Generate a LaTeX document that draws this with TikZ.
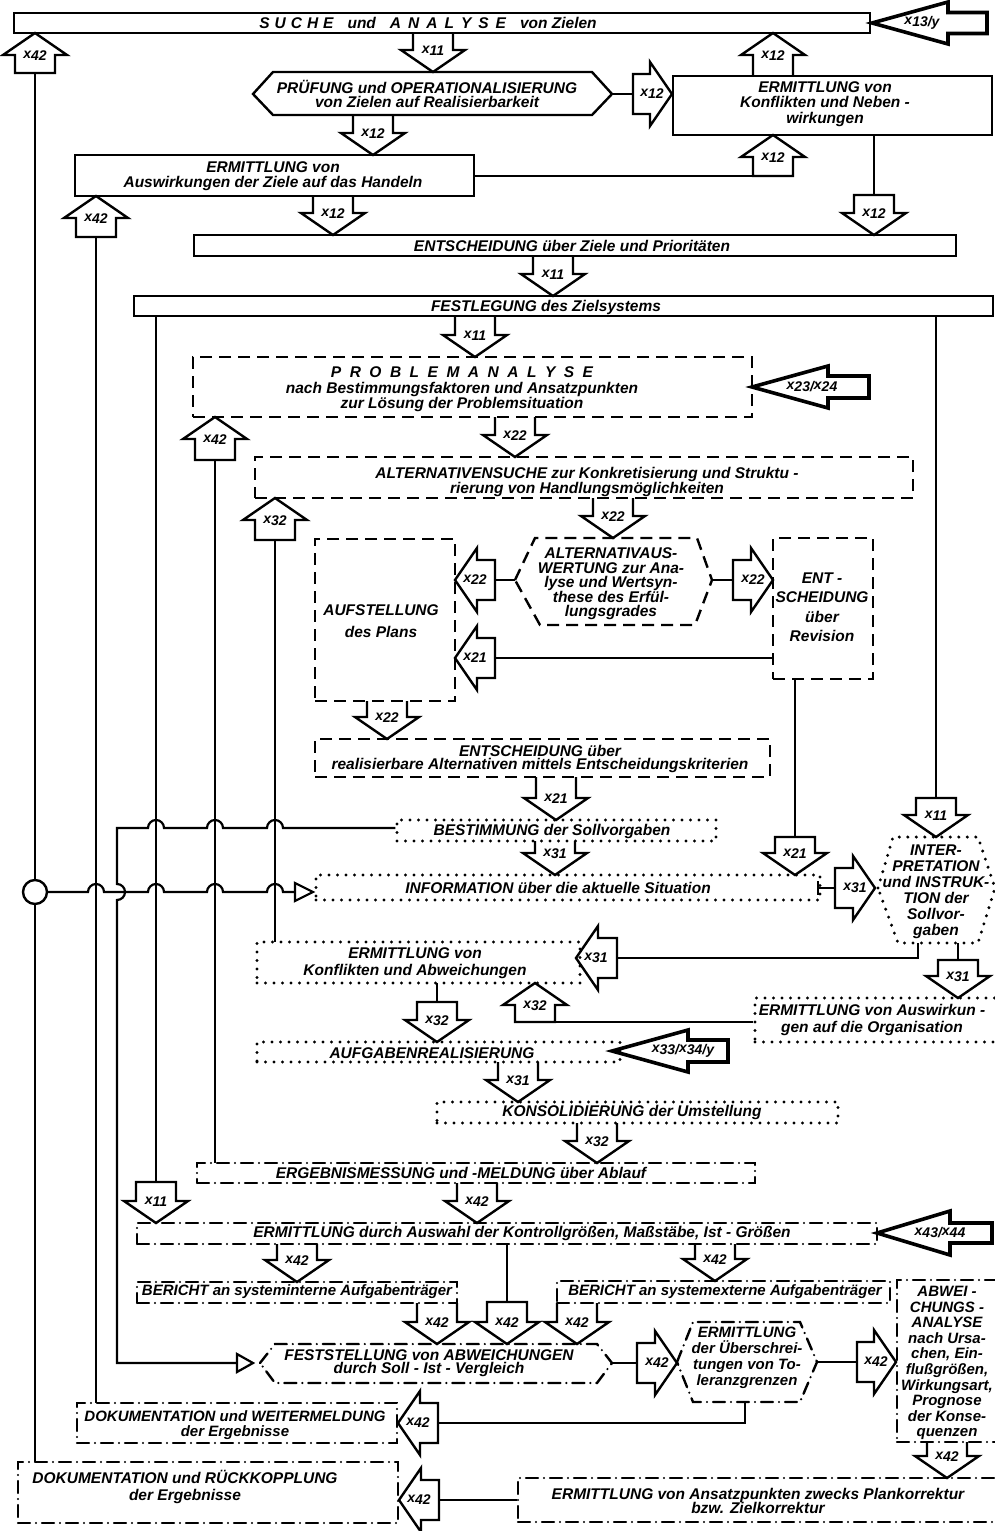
\documentclass[tikz,border=0pt]{standalone}
\usepackage{fontspec}
\setmainfont{Liberation Sans}
\usetikzlibrary{fit}
\newcounter{ac}
\newcommand\xs[1]{\raisebox{0.3ex}{x}#1}
\newcommand\la{\hspace{5pt}}
\newcommand\lb{\hspace{7pt}}
\newcommand\lc{\hspace{8.5pt}}
\tikzset{
  ln/.style={draw, line width=2.2pt},
  sbox/.style={draw, line width=2.4pt, inner sep=0pt},
  dbox/.style={draw, line width=2.4pt, dash pattern=on 12pt off 7pt, inner sep=0pt},
  obox/.style={draw, line width=3.3pt, line cap=round, dash pattern=on 0pt off 8.5pt, inner sep=0pt},
  ddbox/.style={draw, line width=2.4pt, line cap=round, dash pattern=on 12pt off 6pt on 0pt off 6pt, inner sep=0pt},
  arr/.style={draw, line width=2.4pt, line join=miter},
  thk/.style={draw, line width=3.6pt, line join=miter},
  txt/.style={font=\fontsize{15.5}{14.5}\selectfont\bfseries\itshape, align=center, inner sep=0pt},
  alab/.style={font=\fontsize{14}{14}\selectfont\bfseries\itshape, inner sep=0pt},
}
% down arrow: x, tip y, tail y, label, closing
\newcommand\darr[5]{\stepcounter{ac}%
  \draw[arr] (#1-20,#3) -- (#1-20,#2-22) -- (#1-32,#2-22) -- (#1,#2) -- (#1+32,#2-22) -- (#1+20,#2-22) -- (#1+20,#3) #5;
  \node[alab] (a\arabic{ac}) at (#1,#2-21) {\xs{#4}};}
\newcommand\uarr[5]{\stepcounter{ac}%
  \draw[arr] (#1-20,#3) -- (#1-20,#2+22) -- (#1-32,#2+22) -- (#1,#2) -- (#1+32,#2+22) -- (#1+20,#2+22) -- (#1+20,#3) #5;
  \node[alab] (a\arabic{ac}) at (#1,#2+23) {\xs{#4}};}
% left arrow: tip x, y, tail x, label, closing
\newcommand\larr[5]{\stepcounter{ac}%
  \draw[arr] (#3,#2-20) -- (#1+22,#2-20) -- (#1+22,#2-32) -- (#1,#2) -- (#1+22,#2+32) -- (#1+22,#2+20) -- (#3,#2+20) #5;
  \node[alab] (a\arabic{ac}) at (#1+20,#2) {\xs{#4}};}
\newcommand\rarr[5]{\stepcounter{ac}%
  \draw[arr] (#3,#2-20) -- (#1-22,#2-20) -- (#1-22,#2-32) -- (#1,#2) -- (#1-22,#2+32) -- (#1-22,#2+20) -- (#3,#2+20) #5;
  \node[alab] (a\arabic{ac}) at (#1-20,#2) {\xs{#4}};}
% thick input arrow: tip x, y, head back x, head half, tail x, shaft half, label, label x
\newcommand\inarr[8]{\stepcounter{ac}%
  \draw[thk] (#1,#2) -- (#3,#2-#4) -- (#3,#2-#6) -- (#5,#2-#6) -- (#5,#2+#6) -- (#3,#2+#6) -- (#3,#2+#4) -- cycle;
  \node[alab] (a\arabic{ac}) at (#8,#2) {#7};}
\begin{document}
\begin{tikzpicture}[x=1pt,y=-1pt]
\useasboundingbox (0,0) rectangle (995,1531);
% ---------- boxes ----------
\node[sbox, fit={(14,13) (870,33)}] (suche) {};
\draw[sbox] (253,94) -- (273,72) -- (592,72) -- (612,94) -- (592,115) -- (273,115) -- cycle;
\node[sbox, fit={(673,76) (992,135)}] (konfl) {};
\node[sbox, fit={(75,155) (474,196)}] (auswirk) {};
\node[sbox, fit={(194,235) (956,256)}] (entsch) {};
\node[sbox, fit={(134,296) (993,316)}] (festl) {};
\node[dbox, fit={(193,357) (752,417)}] (prob) {};
\node[dbox, fit={(255,457) (913,498)}] (alts) {};
\draw[dbox] (515,580) -- (535,538) -- (697,538) -- (712,580) -- (695,625) -- (540,625) -- cycle;
\node[dbox, fit={(315,539) (455,701)}] (aufst) {};
\node[dbox, fit={(773,538) (873,679)}] (entrev) {};
\node[dbox, fit={(315,739) (770,777)}] (entreal) {};
\node[obox, fit={(397,820) (716,841)}] (bestimm) {};
\node[obox, fit={(316,875) (820,900)}] (info) {};
\draw[obox] (878,888) -- (893,837) -- (978,837) -- (995,888) -- (978,943) -- (898,943) -- cycle;
\node[obox, fit={(257,942) (580,983)}] (konfabw) {};
\node[obox, fit={(755,998) (1010,1042)}] (orga) {};
\node[obox, fit={(257,1042) (620,1062)}] (aufgaben) {};
\node[obox, fit={(437,1102) (838,1123)}] (konsol) {};
\node[ddbox, fit={(197,1163) (755,1183)}] (ergeb) {};
\node[ddbox, fit={(137,1223) (877,1244)}] (durch) {};
\node[ddbox, fit={(137,1282) (457,1303)}] (berint) {};
\node[ddbox, fit={(557,1281) (890,1303)}] (berext) {};
\draw[ddbox] (260,1363) -- (275,1344) -- (597,1344) -- (612,1363) -- (597,1383) -- (275,1383) -- cycle;
\draw[ddbox] (677,1362) -- (693,1322) -- (800,1322) -- (817,1362) -- (800,1402) -- (693,1402) -- cycle;
\node[ddbox, fit={(897,1280) (1010,1442)}] (abw) {};
\node[ddbox, fit={(77,1403) (397,1443)}] (dokw) {};
\node[ddbox, fit={(18,1462) (398,1523)}] (dokr) {};
\node[ddbox, fit={(518,1478) (1010,1522)}] (ansatz) {};
% ---------- texts ----------
\node[txt] (suche-t) at (428,23) {S\la U\la C\la H\la E\hspace{14pt}und\hspace{14pt}A\lb N\lb A\lb L\lb Y\lb S\lb E\hspace{14pt}von Zielen};
\node[txt] (pruef-t) at (427,94) {PRÜFUNG und OPERATIONALISIERUNG\\von Zielen auf Realisierbarkeit};
\node[txt, font=\fontsize{15.5}{15.5}\selectfont\bfseries\itshape] (konfl-t) at (825,104) {ERMITTLUNG von\\Konflikten und Neben -\\wirkungen};
\node[txt] (auswirk-t) at (273,176) {ERMITTLUNG von\\Auswirkungen der Ziele auf das Handeln};
\node[txt] (entsch-t) at (572,246) {ENTSCHEIDUNG über Ziele und Prioritäten};
\node[txt] (festl-t) at (546,307) {FESTLEGUNG des Zielsystems};
\node[txt] (prob-t) at (462,389) {P\lc R\lc O\lc B\lc L\lc E\lc M\lc A\lc N\lc A\lc L\lc Y\lc S\lc E\\[2pt]nach Bestimmungsfaktoren und Ansatzpunkten\\zur Lösung der Problemsituation};
\node[txt] (alts-t) at (587,482) {ALTERNATIVENSUCHE zur Konkretisierung und Struktu -\\rierung von Handlungsmöglichkeiten};
\node[txt] (ausw-t) at (611,584) {ALTERNATIVAUS-\\WERTUNG zur Ana-\\lyse und Wertsyn-\\these des Erfül-\\lungsgrades};
\node[txt] (aufst-t) at (381,621) {AUFSTELLUNG\\[7pt]des Plans};
\node[txt] (entrev-t) at (822,607) {ENT -\\[5pt]SCHEIDUNG\\[5pt]über\\[5pt]Revision};
\node[txt, font=\fontsize{15.5}{13}\selectfont\bfseries\itshape] (entreal-t) at (540,759) {ENTSCHEIDUNG über\\realisierbare Alternativen mittels Entscheidungskriterien};
\node[txt] (best-t) at (552,831) {BESTIMMUNG der Sollvorgaben};
\node[txt] (info-t) at (558,888) {INFORMATION über die aktuelle Situation};
\node[txt, font=\fontsize{15.5}{16}\selectfont\bfseries\itshape] (interp-t) at (936,892) {INTER-\\PRETATION\\und INSTRUK-\\TION der\\Sollvor-\\gaben};
\node[txt, font=\fontsize{15.5}{16.5}\selectfont\bfseries\itshape] (konfabw-t) at (415,963) {ERMITTLUNG von\\Konflikten und Abweichungen};
\node[txt, font=\fontsize{15.5}{17}\selectfont\bfseries\itshape] (orga-t) at (872,1020) {ERMITTLUNG von Auswirkun -\\gen auf die Organisation};
\node[txt] (aufg-t) at (432,1053) {AUFGABENREALISIERUNG};
\node[txt] (konsol-t) at (632,1112) {KONSOLIDIERUNG der Umstellung};
\node[txt] (ergeb-t) at (461,1173) {ERGEBNISMESSUNG und -MELDUNG über Ablauf};
\node[txt] (durch-t) at (522,1233) {ERMITTLUNG durch Auswahl der Kontrollgrößen, Maßstäbe, Ist - Größen};
\node[txt, font=\fontsize{15}{14.5}\selectfont\bfseries\itshape] (berint-t) at (297,1292) {BERICHT an systeminterne Aufgabenträger};
\node[txt, font=\fontsize{15}{14.5}\selectfont\bfseries\itshape] (berext-t) at (725,1292) {BERICHT an systemexterne Aufgabenträger};
\node[txt, font=\fontsize{15.5}{13}\selectfont\bfseries\itshape] (fest-t) at (429,1363) {FESTSTELLUNG von ABWEICHUNGEN\\durch Soll - Ist - Vergleich};
\node[txt, font=\fontsize{15}{16}\selectfont\bfseries\itshape] (ueber-t) at (747,1358) {ERMITTLUNG\\der Überschrei-\\tungen von To-\\leranzgrenzen};
\node[txt, font=\fontsize{15}{15.6}\selectfont\bfseries\itshape] (abw-t) at (947,1363) {ABWEI -\\CHUNGS -\\ANALYSE\\nach Ursa-\\chen, Ein-\\flußgrößen,\\Wirkungsart,\\Prognose\\der Konse-\\quenzen};
\node[txt] (ansatz-t) at (758,1501) {ERMITTLUNG von Ansatzpunkten zwecks Plankorrektur\\bzw. Zielkorrektur};
\node[txt, font=\fontsize{15}{14.5}\selectfont\bfseries\itshape] (dokw-t) at (235,1425) {DOKUMENTATION und WEITERMELDUNG\\der Ergebnisse};
\node[txt] (dokr-t) at (185,1487) {DOKUMENTATION und RÜCKKOPPLUNG\\[3pt]der Ergebnisse};
% ---------- circle and long feedback lines ----------
\node[circle, draw, line width=2.4pt, minimum size=24pt, inner sep=0pt] (circ) at (35,892) {};
\uarr{35}{33}{73}{42}{-- cycle}
\draw[ln] (35,73) -- (circ.north);
\draw[ln] (circ.south) -- (35,1462);
\uarr{96}{196}{237}{42}{-- cycle}
\draw[ln] (96,237) -- (96,1403);
\uarr{215}{417}{460}{42}{-- cycle}
\draw[ln] (215,460) -- (215,1163);
\uarr{275}{498}{540}{32}{-- cycle}
\draw[ln] (275,540) -- (275,942);
\draw[ln] (156,316) -- (156,1182);
\darr{156}{1223}{1182}{11}{-- cycle}
\draw[ln] (936,316) -- (936,798);
\darr{936}{837}{798}{11}{-- cycle}
% horizontal line from circle to INFORMATION (with hops)
\draw[ln] (circ.east) -- (88,892) arc[start angle=180,end angle=0,radius=8pt]
  -- (148,892) arc[start angle=180,end angle=0,radius=8pt]
  -- (207,892) arc[start angle=180,end angle=0,radius=8pt]
  -- (267,892) arc[start angle=180,end angle=0,radius=8pt] -- (295,892);
\draw[ln, line join=miter] (295,883) -- (313,892) -- (295,901) -- cycle;
% line from BESTIMMUNG to FESTSTELLUNG
\draw[ln] (bestimm.west |- 0,828) -- (283,828) arc[start angle=0,end angle=180,radius=8pt]
  -- (223,828) arc[start angle=0,end angle=180,radius=8pt]
  -- (164,828) arc[start angle=0,end angle=180,radius=8pt]
  -- (117,828) -- (117,884) arc[start angle=90,end angle=-90,radius=8pt]
  -- (117,1363) -- (237,1363);
\draw[ln, line join=miter] (237,1354) -- (253,1363) -- (237,1372) -- cycle;
% ---------- upper block ----------
\inarr{872}{23}{948}{21}{987}{10.5}{\xs{13}/y}{922}
\darr{433}{72}{33}{11}{}
\draw[ln] (612,94) -- (633,94);
\rarr{672}{94}{633}{12}{-- cycle}
\uarr{773}{33}{76}{12}{}
\draw[ln] (auswirk.east |- 0,176) -- (753,176);
\uarr{773}{135}{176}{12}{-- cycle}
\draw[ln] (874,135) -- (874,195);
\darr{874}{235}{195}{12}{-- cycle}
\darr{373}{155}{115}{12}{}
\darr{333}{235}{196}{12}{}
\darr{553}{296}{256}{11}{}
\darr{475}{357}{316}{11}{}
% ---------- planning block ----------
\inarr{752}{387}{828}{21}{869}{11}{\xs{23}/\xs{24}}{812}
\darr{515}{457}{417}{22}{}
\darr{613}{538}{498}{22}{}
\draw[ln] (515,580) -- (495,580);
\larr{455}{580}{495}{22}{-- cycle}
\draw[ln] (712,580) -- (733,580);
\rarr{773}{580}{733}{22}{-- cycle}
\draw[ln] (entrev.west |- 0,658) -- (495,658);
\larr{455}{658}{495}{21}{-- cycle}
\darr{387}{739}{701}{22}{}
\darr{556}{820}{777}{21}{}
\darr{555}{875}{841}{31}{}
\draw[ln] (795,679) -- (795,837);
\darr{795}{875}{837}{21}{-- cycle}
% ---------- realisation block ----------
\draw[ln] (818,881) -- (818,895);
\draw[ln] (818,888) -- (835,888);
\rarr{875}{888}{835}{31}{-- cycle}
\draw[ln] (918,943) -- (918,958) -- (617,958);
\larr{576}{958}{617}{31}{-- cycle}
\draw[ln] (958,943) -- (958,960);
\darr{958}{998}{960}{31}{-- cycle}
\draw[ln] (orga.west |- 0,1022) -- (555,1022);
\uarr{535}{983}{1022}{32}{-- cycle}
\draw[ln] (437,983) -- (437,1002);
\darr{437}{1042}{1002}{32}{-- cycle}
\inarr{612}{1051}{688}{21}{728}{11}{\xs{33}/\xs{34}/y}{683}
\darr{518}{1102}{1062}{31}{}
\darr{597}{1163}{1123}{32}{}
% ---------- control block ----------
\darr{477}{1223}{1183}{42}{}
\inarr{877}{1233}{950}{22}{992}{10}{\xs{43}/\xs{44}}{940}
\darr{297}{1282}{1244}{42}{}
\draw[ln] (507,1244) -- (507,1302);
\darr{507}{1344}{1302}{42}{-- cycle}
\darr{715}{1281}{1244}{42}{}
\darr{437}{1344}{1303}{42}{}
\darr{577}{1344}{1303}{42}{}
\draw[ln] (612,1363) -- (637,1363);
\rarr{677}{1363}{637}{42}{-- cycle}
\draw[ln] (817,1362) -- (857,1362);
\rarr{896}{1362}{857}{42}{-- cycle}
\draw[ln] (745,1402) -- (745,1423) -- (438,1423);
\larr{398}{1423}{438}{42}{-- cycle}
\darr{947}{1478}{1442}{42}{}
\draw[ln] (ansatz.west |- 0,1500) -- (439,1500);
\larr{399}{1500}{439}{42}{-- cycle}
\end{tikzpicture}
\end{document}
